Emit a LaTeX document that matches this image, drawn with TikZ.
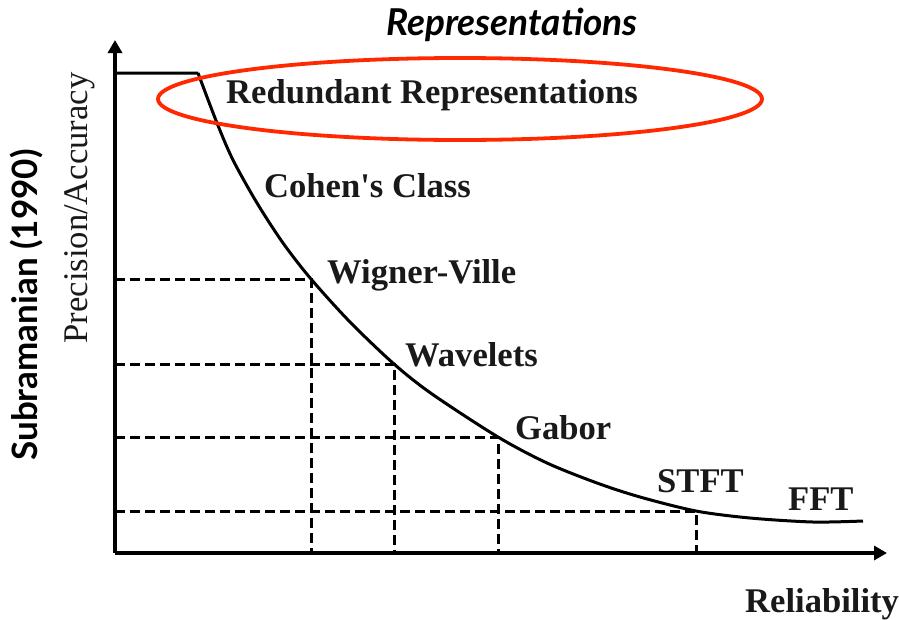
\documentclass[tikz,border=0pt]{standalone}
\usepackage{fontspec}
\setmainfont{Liberation Serif}
\newfontfamily\gillfont{Lato}
\usetikzlibrary{arrows.meta,shapes.geometric}

\definecolor{inkgray}{RGB}{25,25,25}
\definecolor{markred}{RGB}{255,40,0}

\tikzset{
  axis/.style={line width=3.4pt, -{Triangle[length=13pt,width=14pt]}},
  guide/.style={line width=3pt, dash pattern=on 10pt off 5pt},
  method/.style={anchor=base west, inner sep=0pt, text=inkgray, font=\fontsize{34.6}{36}\selectfont\bfseries}
}

\begin{document}
\begin{tikzpicture}[x=1pt, y=-1pt]
  \useasboundingbox (0,0) rectangle (899,619);

  \coordinate (origin) at (115,553);
  \coordinate (ytip) at (115,40);
  \coordinate (xtip) at (887,553);
  \coordinate (ytop) at (115,73);
  \coordinate (kink) at (198,73);
  \coordinate (wv) at (311,279);
  \coordinate (wl) at (394,364);
  \coordinate (gb) at (498,437);
  \coordinate (st) at (696,511);

  \draw[axis] (origin) -- (ytip);
  \draw[axis] (origin) -- (xtip);

  \foreach \p in {wv,wl,gb,st} {
    \draw[guide] (origin |- \p) -- (\p) -- (\p |- origin);
  }

  \draw[line width=3pt, line join=miter] (ytop) -- (kink)
    plot[smooth, tension=0.5] coordinates {(198,73) (217,123) (233,160) (257,203) (283,243) (311,279) (350,322) (394,364) (432,394) (498,437) (547,463) (597,483) (640,497) (696,511) (750,518) (813,522) (863,521)};

  \node[draw=markred, line width=3.8pt, ellipse, minimum width=604pt, minimum height=82pt, inner sep=0pt] (ring) at (460,99) {};

  \node[method] (redundant) at (226,103) {Redundant Representations};
  \node[method] (cohen) at (264,197) {Cohen\textquotesingle s Class};
  \node[method] (wigner) at (327,283) {Wigner-Ville};
  \node[method] (wavelets) at (405,366) {Wavelets};
  \node[method] (gabor) at (515,439) {Gabor};
  \node[method] (stft) at (657,492) {STFT};
  \node[method] (fft) at (788,510) {FFT};
  \node[method] (reliability) at (745,612) {Reliability};

  \node[anchor=base, rotate=90, inner sep=0pt, text=inkgray, font=\fontsize{34.6}{36}\selectfont] (yname) at (87,208) {Precision/Accuracy};
  \node[anchor=base, rotate=90, inner sep=0pt, font=\gillfont\fontsize{35}{37}\selectfont\bfseries] (source) at (37,305) {Subramanian (1990)};
  \node[anchor=base, inner sep=0pt, font=\gillfont\fontsize{37}{39}\selectfont\bfseries\itshape] (title) at (512,35) {Representations};
\end{tikzpicture}
\end{document}
